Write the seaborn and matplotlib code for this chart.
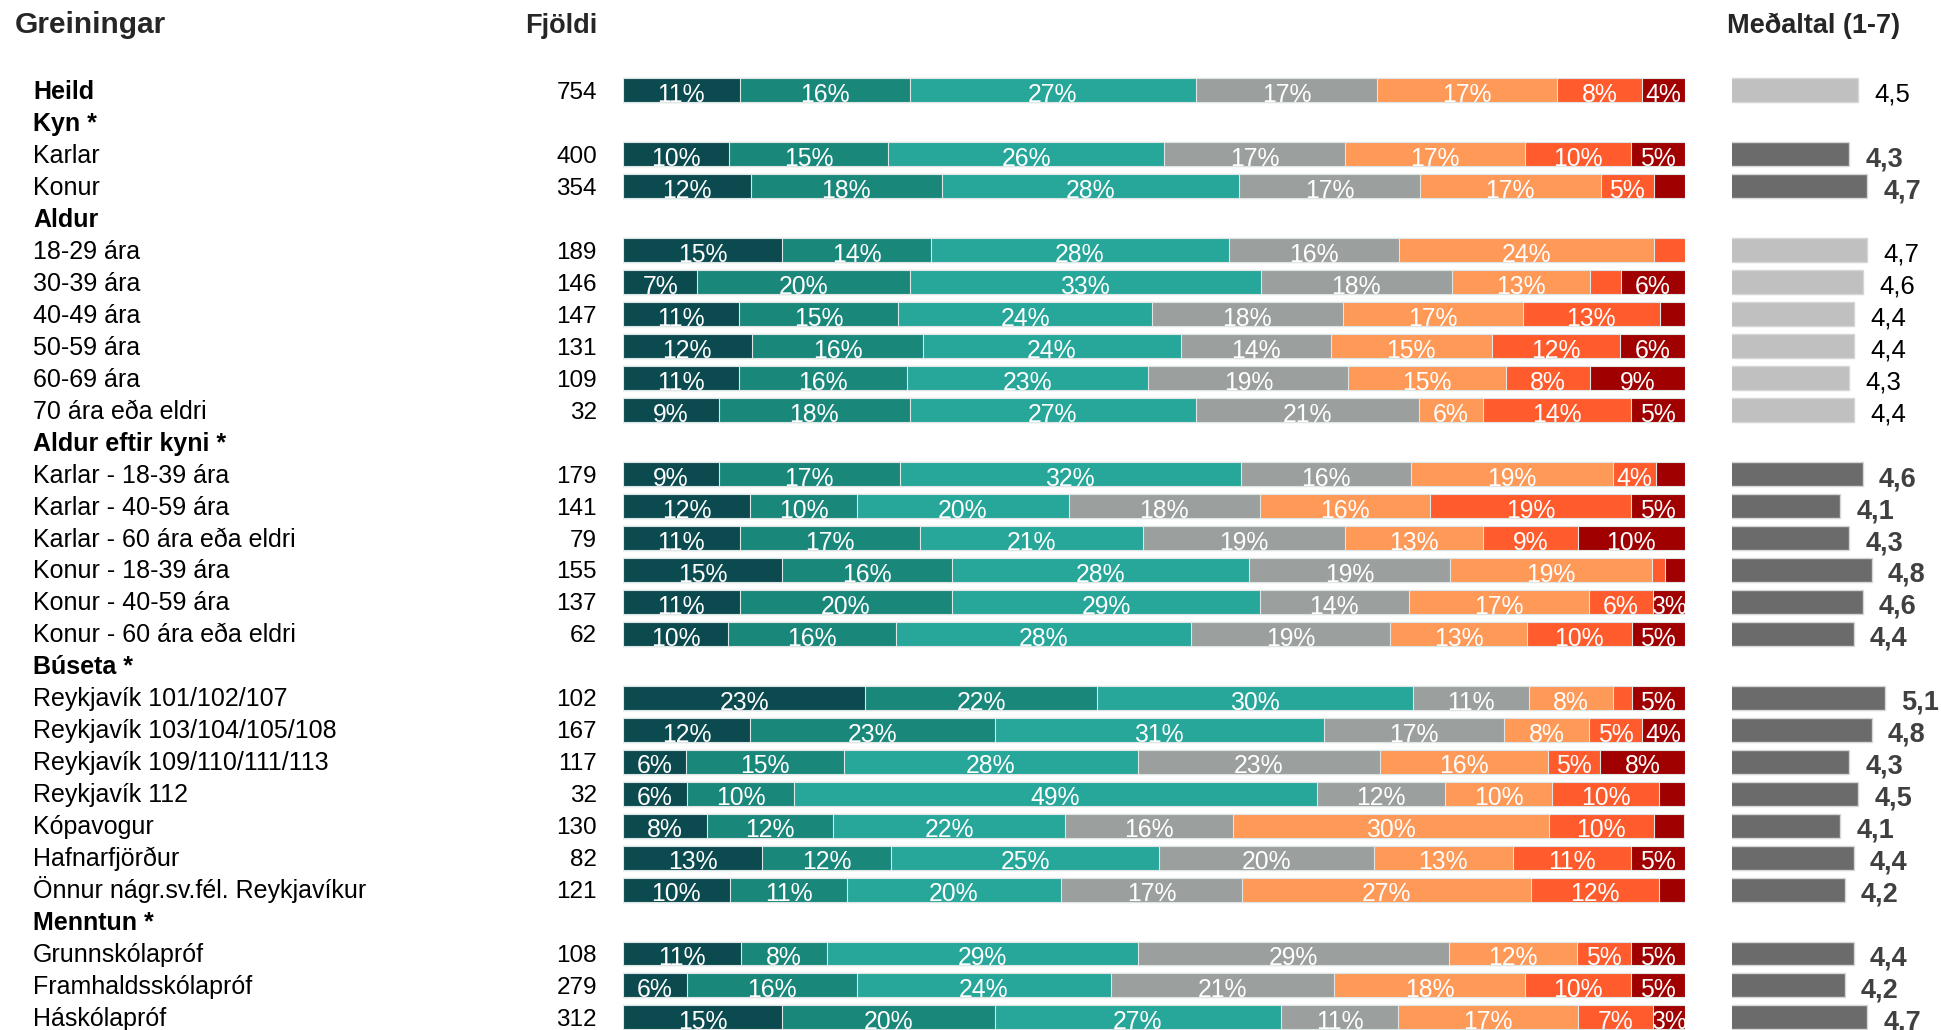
import numpy as np
import pandas as pd
import matplotlib
matplotlib.use("Agg")
import matplotlib.pyplot as plt
import seaborn as sns
from matplotlib.transforms import blended_transform_factory

# ---------------- data ----------------
rows = ["Heild", "Kyn *", "Karlar", "Konur", "Aldur", "18-29 ára", "30-39 ára",
        "40-49 ára", "50-59 ára", "60-69 ára", "70 ára eða eldri",
        "Aldur eftir kyni *", "Karlar - 18-39 ára", "Karlar - 40-59 ára",
        "Karlar - 60 ára eða eldri", "Konur - 18-39 ára", "Konur - 40-59 ára",
        "Konur - 60 ára eða eldri", "Búseta *", "Reykjavík 101/102/107",
        "Reykjavík 103/104/105/108", "Reykjavík 109/110/111/113", "Reykjavík 112",
        "Kópavogur", "Hafnarfjörður", "Önnur nágr.sv.fél. Reykjavíkur",
        "Menntun *", "Grunnskólapróf", "Framhaldsskólapróf", "Háskólapróf"]
bold_rows = ["Heild", "Kyn *", "Aldur", "Aldur eftir kyni *", "Búseta *", "Menntun *"]

kat = [r for r in rows if r not in bold_rows[1:]]
fjoldi = [754, 400, 354, 189, 146, 147, 131, 109, 32, 179, 141, 79, 155, 137, 62,
          102, 167, 117, 32, 130, 82, 121, 108, 279, 312]
s1 = [11, 10, 12, 15, 7, 11, 12, 11, 9, 9, 12, 11, 15, 11, 10, 23, 12, 6, 6, 8, 13, 10, 11, 6, 15]
s2 = [16, 15, 18, 14, 20, 15, 16, 16, 18, 17, 10, 17, 16, 20, 16, 22, 23, 15, 10, 12, 12, 11, 8, 16, 20]
s3 = [27, 26, 28, 28, 33, 24, 24, 23, 27, 32, 20, 21, 28, 29, 28, 30, 31, 28, 49, 22, 25, 20, 29, 24, 27]
s4 = [17, 17, 17, 16, 18, 18, 14, 19, 21, 16, 18, 19, 19, 14, 19, 11, 17, 23, 12, 16, 20, 17, 29, 21, 11]
s5 = [17, 17, 17, 24, 13, 17, 15, 15, 6, 19, 16, 13, 19, 17, 13, 8, 8, 16, 10, 30, 13, 27, 12, 18, 17]
s6 = [8, 10, 5, 2.9, 2.9, 13, 12, 8, 14, 4, 19, 9, 1.3, 6, 10, 1.8, 5, 5, 10, 10, 11, 12, 5, 10, 7]
s7 = [4, 5, 2.9, 0, 6, 2.3, 6, 9, 5, 2.7, 5, 10, 1.8, 3, 5, 5, 4, 8, 2.4, 2.9, 5, 2.4, 5, 5, 3]
medaltal = [4.5, 4.3, 4.7, 4.7, 4.6, 4.4, 4.4, 4.3, 4.4, 4.6, 4.1, 4.3, 4.8, 4.6, 4.4,
            5.1, 4.8, 4.3, 4.5, 4.1, 4.4, 4.2, 4.4, 4.2, 4.7]
hopur = ["ljós"] + ["dökk"] * 2 + ["ljós"] * 6 + ["dökk"] * 6 + ["dökk"] * 7 + ["dökk"] * 3

colors = ["#0b4a4e", "#1a877b", "#27a79a", "#9ba09f", "#fe9958", "#ff5b2c", "#a00000"]

# ---------------- figure ----------------
sns.set_theme(style="white")
plt.rcParams['font.family'] = ['Liberation Sans', 'DejaVu Sans']

W, H = 1941, 1030
fig = plt.figure(figsize=(W / 100, H / 100), dpi=100)
row0, step = 90.3, 31.97
ylim = ((H - row0) / step, -row0 / step)

ax = fig.add_axes([623 / W, 0, (1684.5 - 623) / W, 1])
axm = fig.add_axes([1732.3 / W, 0, (W - 1732.3) / W, 1])

vals = np.array([s1, s2, s3, s4, s5, s6, s7], dtype=float).T
tot = vals.sum(axis=1, keepdims=True)
share = vals / tot * 100
cum = np.cumsum(share, axis=1)

for k in range(6, -1, -1):
    d = pd.DataFrame({"kat": kat, "x": cum[:, k]})
    sns.barplot(data=d, x="x", y="kat", order=rows, orient="h", color=colors[k],
                saturation=1, width=0.75, edgecolor="#dde6e5", linewidth=0.8,
                errorbar=None, ax=ax)

for i, name in enumerate(kat):
    pos = rows.index(name)
    for k in range(7):
        v = vals[i, k]
        if v >= 3:
            ax.text(cum[i, k] - share[i, k] / 2, pos + 0.37, f"{round(v)}%",
                    ha="center", va="baseline", color="white", fontsize=17.8)

ax.set_xlim(0, 100)
ax.set_ylim(*ylim)
ax.axis("off")

# mean bars
dm = pd.DataFrame({"kat": kat, "medaltal": medaltal, "hopur": hopur})
sns.barplot(data=dm, x="medaltal", y="kat", hue="hopur", order=rows, orient="h",
            palette={"ljós": "#c0c0c0", "dökk": "#6b6b6b"}, dodge=False, legend=False,
            saturation=1, width=0.75, edgecolor="#d6d6d6", linewidth=1.0,
            errorbar=None, ax=axm)
x0 = 1.7
axm.set_xlim(x0, x0 + (W - 1732.3) / 45.0)
axm.set_ylim(*ylim)
axm.axis("off")
for i, name in enumerate(kat):
    pos = rows.index(name)
    m = medaltal[i]
    if hopur[i] == "ljós":
        axm.text(m + 0.36, pos + 0.36, f"{m:.1f}".replace(".", ","), ha="left",
                 va="baseline", fontsize=18.5, color="black")
    else:
        axm.text(m + 0.36, pos + 0.38, f"{m:.1f}".replace(".", ","), ha="left",
                 va="baseline", fontsize=19.5, color="#404040", fontweight="bold")

# left text columns
tr = blended_transform_factory(fig.transFigure, ax.transData)
for r_i, name in enumerate(rows):
    fw = "bold" if name in bold_rows else "normal"
    ax.text(33 / W, r_i + 0.27, name, transform=tr, ha="left", va="baseline",
            fontsize=18, fontweight=fw, color="black")
for i, name in enumerate(kat):
    pos = rows.index(name)
    ax.text(597 / W, pos + 0.27, str(fjoldi[i]), transform=tr, ha="right",
            va="baseline", fontsize=17.5, color="black")

hy = (33 - row0) / step
ax.text(15 / W, hy, "Greiningar", transform=tr, ha="left", va="baseline",
        fontsize=21.5, fontweight="bold")
ax.text(597 / W, hy, "Fjöldi", transform=tr, ha="right", va="baseline",
        fontsize=19.5, fontweight="bold")
ax.text(1727 / W, hy, "Meðaltal (1-7)", transform=tr, ha="left", va="baseline",
        fontsize=19.5, fontweight="bold")

fig.savefig("out.png", dpi=100)
